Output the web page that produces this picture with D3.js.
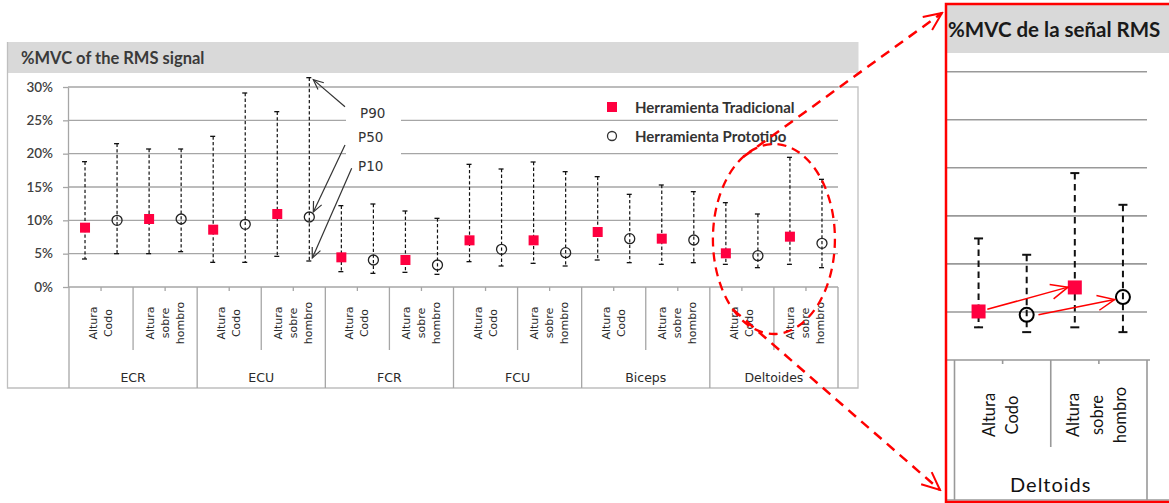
<!DOCTYPE html>
<html>
<head>
<meta charset="utf-8">
<script src="https://cdn.jsdelivr.net/npm/d3@7"></script>
<style>
  body { margin: 0; background: #fff; }
  svg { display: block; }
</style>
</head>
<body>
<svg id="chart" width="1169" height="503"></svg>
<script>
// ---- data -------------------------------------------------------------
const muscles   = ["ECR", "ECU", "FCR", "FCU", "Biceps", "Deltoides"];
const postures  = [["Altura", "Codo"], ["Altura", "sobre", "hombro"]];
const tools     = ["Herramienta Tradicional", "Herramienta Prototipo"];
const yTicks    = [0, 5, 10, 15, 20, 25, 30];
const pLabels   = ["P90", "P50", "P10"];
const insetTitle = "%MVC de la señal RMS";
const insetGroup = "Deltoids";

// %MVC percentiles, one value per muscle × posture (Codo, sobre hombro)
const tradP50  = [8.9, 10.2, 8.6, 10.95, 4.45, 4.05, 7.0, 7.0, 8.25, 7.25, 5.05, 7.55];
const tradP10  = [4.2, 5.0, 3.7, 4.6, 2.3, 2.2, 3.8, 3.55, 4.05, 3.4, 3.4, 3.4];
const tradP90  = [18.8, 20.7, 22.6, 26.3, 12.2, 11.4, 18.4, 18.75, 16.55, 15.3, 12.65, 19.45];
const protoP50 = [10.0, 10.2, 9.4, 10.5, 4.05, 3.3, 5.65, 5.15, 7.25, 7.05, 4.7, 6.55];
const protoP10 = [5.0, 5.3, 3.7, 3.9, 2.05, 1.9, 3.15, 3.15, 3.65, 3.65, 2.9, 2.9];
const protoP90 = [21.5, 20.7, 29.1, 31.4, 12.45, 10.3, 17.7, 17.3, 13.9, 14.3, 10.95, 16.15];

// ---- derived rows -----------------------------------------------------
const rows = [];
muscles.forEach((m, mi) => postures.forEach((p, pi) => {
  const i = mi * postures.length + pi;
  rows.push({
    key: m + "|" + pi, muscle: m, posture: pi, lines: p,
    vals: [
      { tool: 0, p10: tradP10[i],  p50: tradP50[i],  p90: tradP90[i] },
      { tool: 1, p10: protoP10[i], p50: protoP50[i], p90: protoP90[i] }
    ]
  });
}));

const RED = "#ff0040";
const GRID = "#a6a6a6";
const svg = d3.select("#chart");

// =======================================================================
// main chart
// =======================================================================
const plot = { l: 69, r: 838, t: 87, b: 287, subB: 350, grpB: 388 };
const frame = { l: 7.5, t: 42, r: 858, b: 388 };

const x0 = d3.scaleBand().domain(rows.map(d => d.key)).range([plot.l, plot.r]);
const x1 = d3.scaleBand().domain([0, 1]).range([0, x0.bandwidth()]);
const y  = d3.scaleLinear().domain([0, 30]).range([plot.b, plot.t]);
const px = (row, v) => x0(row.key) + x1(v.tool) + x1.bandwidth() / 2;

// title band and outer frame
svg.append("rect").attr("x", frame.l + 0.5).attr("y", frame.t)
  .attr("width", frame.r - frame.l).attr("height", 31).attr("fill", "#d9d9d9");
svg.append("text").attr("x", 21).attr("y", 58).attr("dominant-baseline", "central")
  .attr("font-family", "Lato, sans-serif").attr("font-weight", "bold")
  .attr("font-size", 16.5).attr("fill", "#3a3a3a").text("%MVC of the RMS signal");

svg.append("path")
  .attr("d", `M${frame.l},${frame.t}V${frame.b}H${frame.r}V${y(30)}H${plot.r}`)
  .attr("fill", "none").attr("stroke", "#bfbfbf").attr("stroke-width", 1.3);

// gridlines
svg.append("g").selectAll("line").data(yTicks).join("line")
  .attr("x1", plot.l - 1).attr("x2", plot.r)
  .attr("y1", d => y(d)).attr("y2", d => y(d))
  .attr("stroke", GRID).attr("stroke-width", 1.3);

// y axis
const yAxis = svg.append("g").attr("transform", `translate(${plot.l - 1},0)`)
  .call(d3.axisLeft(y).tickValues(yTicks).tickFormat(d => d + "%")
    .tickSize(5).tickSizeOuter(0).tickPadding(10));
yAxis.select(".domain").attr("stroke", GRID).attr("stroke-width", 1.3);
yAxis.selectAll(".tick line").attr("stroke", GRID).attr("stroke-width", 1.3);
yAxis.selectAll(".tick text").attr("font-family", "Lato, sans-serif")
  .attr("font-size", 13.5).attr("font-weight", 600).attr("fill", "#404040");

// category axis: small ticks, posture dividers, muscle dividers
const axisG = svg.append("g").attr("stroke", GRID).attr("stroke-width", 1.3);
axisG.selectAll(".mid").data(rows).join("line")
  .attr("x1", d => x0(d.key) + x0.bandwidth() / 2).attr("x2", d => x0(d.key) + x0.bandwidth() / 2)
  .attr("y1", plot.b).attr("y2", plot.b + 4);
axisG.selectAll(".sub").data(rows.filter(d => d.posture > 0)).join("line")
  .attr("x1", d => x0(d.key)).attr("x2", d => x0(d.key))
  .attr("y1", plot.b).attr("y2", plot.subB);
const grpEdges = rows.filter(d => d.posture === 0).map(d => x0(d.key)).concat([plot.r]);
axisG.selectAll(".grp").data(grpEdges).join("line")
  .attr("x1", d => d).attr("x2", d => d)
  .attr("y1", plot.b).attr("y2", plot.grpB);

// posture labels (rotated, multi-line)
const subLab = svg.append("g").attr("font-family", "'DejaVu Sans', sans-serif")
  .attr("font-size", 11).attr("fill", "#2a2a2a");
rows.forEach(r => {
  const cx = x0(r.key) + x0.bandwidth() / 2;
  const n = r.lines.length;
  r.lines.forEach((t, i) => {
    subLab.append("text")
      .attr("transform", `translate(${cx + (i - (n - 1) / 2) * 15},${323}) rotate(-90)`)
      .attr("text-anchor", "middle").attr("dominant-baseline", "central").text(t);
  });
});
// muscle labels
svg.append("g").selectAll("text").data(muscles).join("text")
  .attr("x", m => x0(m + "|0") + x0.bandwidth())
  .attr("y", 377).attr("text-anchor", "middle").attr("dominant-baseline", "central")
  .attr("font-family", "'DejaVu Sans', sans-serif").attr("font-size", 12.5)
  .attr("fill", "#2a2a2a").text(m => m);

// P10–P90 whiskers
const pts = rows.flatMap(r => r.vals.map(v => ({ row: r, v, x: px(r, v) })));
const wG = svg.append("g");
wG.selectAll(".w").data(pts).join("line")
  .attr("x1", d => d.x).attr("x2", d => d.x)
  .attr("y1", d => y(d.v.p90)).attr("y2", d => y(d.v.p10))
  .attr("stroke", "#111").attr("stroke-width", 1.2).attr("stroke-dasharray", "3.3,2.3");
["p90", "p10"].forEach(k => {
  wG.selectAll(".c" + k).data(pts).join("line")
    .attr("x1", d => d.x - 3).attr("x2", d => d.x + 2)
    .attr("y1", d => y(d.v[k])).attr("y2", d => y(d.v[k]))
    .attr("stroke", "#111").attr("stroke-width", 1.3);
});

// P50 markers
const mG = svg.append("g");
mG.selectAll("rect").data(pts.filter(d => d.v.tool === 0)).join("rect")
  .attr("x", d => d.x - 5).attr("y", d => y(d.v.p50) - 5)
  .attr("width", 10).attr("height", 10).attr("fill", RED);
mG.selectAll("circle").data(pts.filter(d => d.v.tool === 1)).join("circle")
  .attr("cx", d => d.x).attr("cy", d => y(d.v.p50)).attr("r", 5)
  .attr("fill", "none").attr("stroke", "#222").attr("stroke-width", 1.3);

// legend
const leg = svg.append("g").attr("font-family", "Lato, sans-serif")
  .attr("font-weight", "bold").attr("font-size", 15).attr("fill", "#333");
leg.append("rect").attr("x", 607).attr("y", 102).attr("width", 10).attr("height", 10).attr("fill", RED);
leg.append("circle").attr("cx", 612).attr("cy", 136).attr("r", 4.5)
  .attr("fill", "none").attr("stroke", "#333").attr("stroke-width", 1.3);
tools.forEach((t, i) => leg.append("text").attr("x", 635).attr("y", 107 + i * 29)
  .attr("dominant-baseline", "central").text(t));

// percentile call-outs pointing at the ECU / sobre hombro / Prototipo whisker
const defs = svg.append("defs");
function vMarker(id, color, len, half, width) {
  defs.append("marker").attr("id", id).attr("markerUnits", "userSpaceOnUse")
    .attr("viewBox", `${-len - 2} ${-half - 2} ${len + 4} ${2 * half + 4}`)
    .attr("refX", 0).attr("refY", 0)
    .attr("markerWidth", len + 4).attr("markerHeight", 2 * half + 4).attr("orient", "auto")
    .append("path").attr("d", `M${-len},${-half}L0,0L${-len},${half}`)
    .attr("fill", "none").attr("stroke", color).attr("stroke-width", width);
}
vMarker("arrGray", "#333", 10, 4.5, 1.2);
vMarker("arrRed", "#ff0000", 18, 8, 2);
vMarker("arrRedThin", "#ff0000", 17, 7.5, 1.5);

svg.append("rect").attr("x", 346).attr("y", 97).attr("width", 55).attr("height", 80).attr("fill", "#fff");
const target = pts.find(d => d.row.key === "ECU|1" && d.v.tool === 1);
const callouts = [
  { label: pLabels[0], tx: 360, ty: 113, from: [345, 106.7], to: [target.x + 4, y(target.v.p90) + 2] },
  { label: pLabels[1], tx: 358, ty: 137, from: [345, 145],   to: [target.x + 4, y(target.v.p50) - 5] },
  { label: pLabels[2], tx: 358, ty: 166, from: [351.7, 168.3], to: [target.x + 3, y(target.v.p10) - 3] }
];
callouts.forEach(c => {
  svg.append("line").attr("x1", c.from[0]).attr("y1", c.from[1])
    .attr("x2", c.to[0]).attr("y2", c.to[1])
    .attr("stroke", "#333").attr("stroke-width", 1.2).attr("marker-end", "url(#arrGray)");
  svg.append("text").attr("x", c.tx).attr("y", c.ty).attr("dominant-baseline", "central")
    .attr("font-family", "'DejaVu Sans', sans-serif").attr("font-size", 13.5)
    .attr("fill", "#333").text(c.label);
});

// =======================================================================
// inset: Deltoides enlarged
// =======================================================================
const inset = { l: 946, t: 4, b: 502, plotR: 1147, base: 360, top: 71.7, subB: 447, grpB: 500, catL: 954.5 };
const delt = rows.filter(r => r.muscle === "Deltoides");
const xi0 = d3.scaleBand().domain(delt.map(d => d.key)).range([inset.catL, inset.plotR]);
const xi1 = d3.scaleBand().domain([0, 1]).range([0, xi0.bandwidth()]);
const yi  = d3.scaleLinear().domain([0, 30]).range([inset.base, inset.top]);
const ipts = delt.flatMap(r => r.vals.map(v => ({ row: r, v, x: xi0(r.key) + xi1(v.tool) + xi1.bandwidth() / 2 })));

svg.append("rect").attr("x", inset.l).attr("y", inset.t + 1).attr("width", 1169 - inset.l)
  .attr("height", 48).attr("fill", "#d9d9d9");
svg.append("text").attr("x", 948).attr("y", 29).attr("dominant-baseline", "central")
  .attr("font-family", "Lato, sans-serif").attr("font-weight", "bold")
  .attr("font-size", 20.5).attr("fill", "#1a1a1a").text(insetTitle);

svg.append("g").selectAll("line").data(yTicks.filter(d => d > 0)).join("line")
  .attr("x1", inset.l).attr("x2", inset.plotR)
  .attr("y1", d => yi(d)).attr("y2", d => yi(d))
  .attr("stroke", "#999").attr("stroke-width", 1.6);

const iAx = svg.append("g").attr("stroke", "#999").attr("stroke-width", 1.6);
iAx.append("line").attr("x1", inset.l).attr("x2", inset.plotR + 3)
  .attr("y1", inset.base).attr("y2", inset.base);
iAx.append("line").attr("x1", inset.l).attr("x2", 1169)
  .attr("y1", inset.grpB).attr("y2", inset.grpB);
iAx.selectAll(".m").data(delt).join("line")
  .attr("x1", d => xi0(d.key) + xi0.bandwidth() / 2).attr("x2", d => xi0(d.key) + xi0.bandwidth() / 2)
  .attr("y1", inset.base).attr("y2", inset.base + 4);
iAx.selectAll(".s").data(delt.filter(d => d.posture > 0)).join("line")
  .attr("x1", d => xi0(d.key)).attr("x2", d => xi0(d.key))
  .attr("y1", inset.base).attr("y2", inset.subB);
iAx.selectAll(".g").data([inset.catL, inset.plotR]).join("line")
  .attr("x1", d => d).attr("x2", d => d).attr("y1", inset.base).attr("y2", inset.grpB);

const iLab = svg.append("g").attr("font-family", "Lato, sans-serif")
  .attr("font-size", 16.5).attr("fill", "#111");
delt.forEach(r => {
  const cx = xi0(r.key) + xi0.bandwidth() / 2 - 2;
  const n = r.lines.length;
  r.lines.forEach((t, i) => {
    iLab.append("text")
      .attr("transform", `translate(${cx + (i - (n - 1) / 2) * 23.5},${415}) rotate(-90)`)
      .attr("text-anchor", "middle").attr("dominant-baseline", "central").text(t);
  });
});
svg.append("text").attr("x", (inset.catL + inset.plotR) / 2).attr("y", 484)
  .attr("text-anchor", "middle").attr("dominant-baseline", "central")
  .attr("font-family", "Lato, sans-serif").attr("font-size", 20).attr("letter-spacing", 1)
  .attr("fill", "#111").text(insetGroup);

const iw = svg.append("g");
iw.selectAll(".w").data(ipts).join("line")
  .attr("x1", d => d.x).attr("x2", d => d.x)
  .attr("y1", d => yi(d.v.p90)).attr("y2", d => yi(d.v.p10))
  .attr("stroke", "#111").attr("stroke-width", 2).attr("stroke-dasharray", "6.5,4.5");
["p90", "p10"].forEach(k => {
  iw.selectAll(".c" + k).data(ipts).join("line")
    .attr("x1", d => d.x - 4.5).attr("x2", d => d.x + 4.5)
    .attr("y1", d => yi(d.v[k])).attr("y2", d => yi(d.v[k]))
    .attr("stroke", "#111").attr("stroke-width", 2);
});
iw.selectAll("rect").data(ipts.filter(d => d.v.tool === 0)).join("rect")
  .attr("x", d => d.x - 7).attr("y", d => yi(d.v.p50) - 7)
  .attr("width", 14).attr("height", 14).attr("fill", RED);
iw.selectAll("circle").data(ipts.filter(d => d.v.tool === 1)).join("circle")
  .attr("cx", d => d.x).attr("cy", d => yi(d.v.p50)).attr("r", 7)
  .attr("fill", "none").attr("stroke", "#000").attr("stroke-width", 2);

// change from Codo to sobre hombro for each tool
[0, 1].forEach(tool => {
  const a = ipts.find(d => d.row.posture === 0 && d.v.tool === tool);
  const b = ipts.find(d => d.row.posture === 1 && d.v.tool === tool);
  const ax = a.x, ay = yi(a.v.p50), bx = b.x, by = yi(b.v.p50);
  const len = Math.hypot(bx - ax, by - ay), ux = (bx - ax) / len, uy = (by - ay) / len;
  const s0 = tool === 0 ? 9 : 12, s1 = tool === 0 ? 7 : 8.5;
  svg.append("line")
    .attr("x1", ax + ux * s0).attr("y1", ay + uy * s0 + (tool === 0 ? 0 : 2))
    .attr("x2", bx - ux * s1).attr("y2", by - uy * s1 + (tool === 0 ? -2 : 1))
    .attr("stroke", "#ff0000").attr("stroke-width", 1.5).attr("marker-end", "url(#arrRedThin)");
});

// red frame of the inset
svg.append("rect").attr("x", inset.l).attr("y", inset.t).attr("width", 260)
  .attr("height", inset.b - inset.t).attr("fill", "none")
  .attr("stroke", "#ff0000").attr("stroke-width", 2.5);

// dashed ellipse around Deltoides and the two leader lines to the inset
const ell = { cx: x0("Deltoides|0") + x0.bandwidth(), cy: y(7.2), rx: 61, ry: 95 };
const onEll = deg => [ell.cx + ell.rx * Math.cos(deg * Math.PI / 180), ell.cy + ell.ry * Math.sin(deg * Math.PI / 180)];
svg.append("ellipse").attr("cx", ell.cx).attr("cy", ell.cy).attr("rx", ell.rx).attr("ry", ell.ry)
  .attr("fill", "none").attr("stroke", "#ff0000").attr("stroke-width", 2.3).attr("stroke-dasharray", "9,6");
const leaders = [
  { from: onEll(240), to: [inset.l - 4, inset.t + 9] },
  { from: onEll(132), to: [inset.l - 6, inset.b - 12] }
];
leaders.forEach(l => svg.append("line")
  .attr("x1", l.from[0]).attr("y1", l.from[1]).attr("x2", l.to[0]).attr("y2", l.to[1])
  .attr("stroke", "#ff0000").attr("stroke-width", 2.5).attr("stroke-dasharray", "10,7")
  .attr("marker-end", "url(#arrRed)"));
</script>
</body>
</html>
